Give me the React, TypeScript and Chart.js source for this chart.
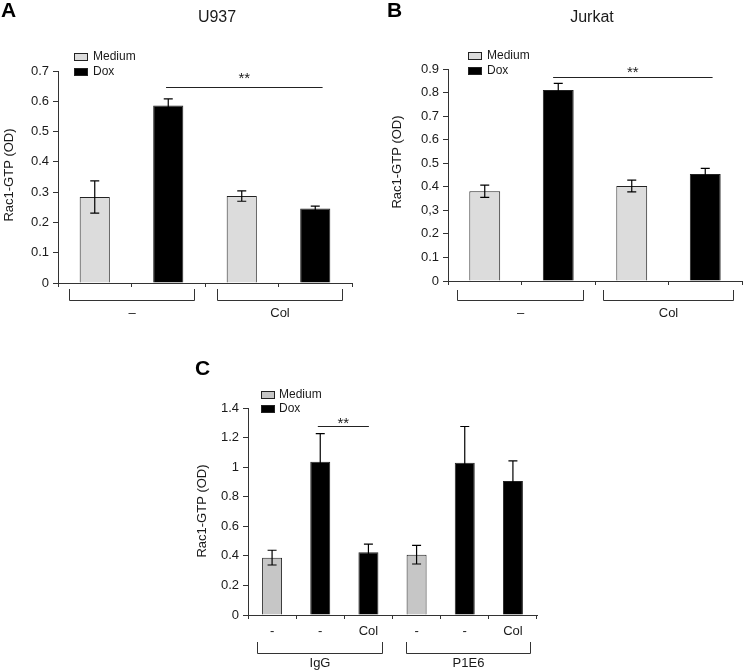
import React, { useEffect, useRef } from "react";
import { Chart, registerables } from "chart.js";

Chart.register(...registerables);

// ---------- data ----------
const legendLabels = ["Medium", "Dox"];

// Panel A – U937
const barsA = ["Medium –", "Dox –", "Medium Col", "Dox Col"];
const seriesA = [0, 1, 0, 1];
const valuesA = [0.284, 0.586, 0.287, 0.246];
const errorsA = [0.053, 0.022, 0.017, 0.008];
const yTicksA = ["0", "0.1", "0.2", "0.3", "0.4", "0.5", "0.6", "0.7"];
const groupsA = ["–", "Col"];
const sigA = { from: 0.97, to: 3.1, y: 0.647, text: "**" };

// Panel B – Jurkat
const barsB = ["Medium –", "Dox –", "Medium Col", "Dox Col"];
const seriesB = [0, 1, 0, 1];
const valuesB = [0.381, 0.811, 0.403, 0.454];
const errorsB = [0.026, 0.028, 0.025, 0.024];
const yTicksB = ["0", "0.1", "0.2", "0,3", "0.4", "0.5", "0.6", "0.7", "0.8", "0.9"];
const groupsB = ["–", "Col"];
const sigB = { from: 0.93, to: 3.1, y: 0.867, text: "**" };

// Panel C
const barsC = ["-", "-", "Col", "-", "-", "Col"];
const seriesC = [0, 1, 1, 0, 1, 1];
const valuesC = [0.388, 1.037, 0.424, 0.408, 1.03, 0.906];
const errorsC = [0.05, 0.19, 0.056, 0.063, 0.245, 0.137];
const yTicksC = ["0", "0.2", "0.4", "0.6", "0.8", "1", "1.2", "1.4"];
const groupsC = ["IgG", "P1E6"];
const sigC = { from: 0.95, to: 2.01, y: 1.28, text: "**" };

const yTitle = "Rac1-GTP (OD)";

// ---------- styling / layout ----------
const FONT = "'Liberation Sans', Arial, Helvetica, sans-serif";
const AXIS = "#333";
const TEXT = "#1a1a1a";

type Panel = {
  letter: string;
  title: string;
  box: { left: number; top: number; width: number; height: number };
  area: { left: number; top: number; right: number; bottom: number };
  labels: string[];
  series: number[];
  values: number[];
  errors: number[];
  yMax: number;
  yStep: number;
  yTicks: string[];
  mediumColor: string;
  barPct: number;
  showXLabels: boolean;
  groups: string[];
  groupSpans: [number, number][];
  sig: { from: number; to: number; y: number; text: string };
  starDy: number;
  bracket: { top: number; bottom: number; label: number };
  legend: { x: number; y1: number; y2: number; tx: number };
  letterPos: { x: number; y: number };
  titlePos: { x: number; y: number };
  yTitlePos: { x: number; y: number };
};

const panels: Panel[] = [
  {
    letter: "A",
    title: "U937",
    box: { left: 0, top: 0, width: 370, height: 330 },
    area: { left: 58, top: 71, right: 352, bottom: 283 },
    labels: barsA,
    series: seriesA,
    values: valuesA,
    errors: errorsA,
    yMax: 0.7,
    yStep: 0.1,
    yTicks: yTicksA,
    mediumColor: "#dcdcdc",
    barPct: 0.41,
    showXLabels: false,
    groups: groupsA,
    groupSpans: [
      [-0.35, 1.35],
      [1.67, 3.37],
    ],
    sig: sigA,
    starDy: 5,
    bracket: { top: 6, bottom: 17, label: 30 },
    legend: { x: 74, y1: 53, y2: 68, tx: 93 },
    letterPos: { x: 1, y: 17 },
    titlePos: { x: 217, y: 22 },
    yTitlePos: { x: 9, y: 175 },
  },
  {
    letter: "B",
    title: "Jurkat",
    box: { left: 370, top: 0, width: 373, height: 330 },
    area: { left: 78, top: 69, right: 372, bottom: 281 },
    labels: barsB,
    series: seriesB,
    values: valuesB,
    errors: errorsB,
    yMax: 0.9,
    yStep: 0.1,
    yTicks: yTicksB,
    mediumColor: "#dcdcdc",
    barPct: 0.42,
    showXLabels: false,
    groups: groupsB,
    groupSpans: [
      [-0.38, 1.34],
      [1.61, 3.38],
    ],
    sig: sigB,
    starDy: 1,
    bracket: { top: 9, bottom: 19, label: 32 },
    legend: { x: 98, y1: 52, y2: 67, tx: 117 },
    letterPos: { x: 17, y: 17 },
    titlePos: { x: 222, y: 22 },
    yTitlePos: { x: 27, y: 162 },
  },
  {
    letter: "C",
    title: "",
    box: { left: 180, top: 330, width: 420, height: 342 },
    area: { left: 68, top: 78, right: 357, bottom: 285 },
    labels: barsC,
    series: seriesC,
    values: valuesC,
    errors: errorsC,
    yMax: 1.4,
    yStep: 0.2,
    yTicks: yTicksC,
    mediumColor: "#c6c6c6",
    barPct: 0.415,
    showXLabels: true,
    groups: groupsC,
    groupSpans: [
      [-0.31, 2.28],
      [2.78, 5.35],
    ],
    sig: sigC,
    starDy: -1,
    bracket: { top: 27, bottom: 38, label: 48 },
    legend: { x: 81, y1: 61, y2: 75, tx: 99 },
    letterPos: { x: 15, y: 45 },
    titlePos: { x: 0, y: 0 },
    yTitlePos: { x: 22, y: 181 },
  },
];

function PanelChart({ cfg }: { cfg: Panel }) {
  const ref = useRef<HTMLCanvasElement>(null);

  useEffect(() => {
    const canvas = ref.current;
    if (!canvas) return;
    const { box, area } = cfg;
    const colors = cfg.series.map((s) => (s === 0 ? cfg.mediumColor : "#000"));

    const overlay = {
      id: "overlay",
      afterDatasetsDraw(chart: any) {
        const ctx: CanvasRenderingContext2D = chart.ctx;
        const xs = chart.scales.x;
        const ys = chart.scales.y;
        const meta = chart.getDatasetMeta(0);
        const bottom = chart.chartArea.bottom;
        ctx.save();

        // error bars
        ctx.strokeStyle = "#000";
        ctx.lineWidth = 1.2;
        cfg.values.forEach((v, i) => {
          const x = meta.data[i].x;
          const yt = ys.getPixelForValue(v + cfg.errors[i]);
          const yb = ys.getPixelForValue(v - cfg.errors[i]);
          ctx.beginPath();
          ctx.moveTo(x, yt);
          ctx.lineTo(x, yb);
          ctx.moveTo(x - 4.5, yt);
          ctx.lineTo(x + 4.5, yt);
          ctx.moveTo(x - 4.5, yb);
          ctx.lineTo(x + 4.5, yb);
          ctx.stroke();
        });

        // significance line
        const sy = Math.round(ys.getPixelForValue(cfg.sig.y)) + 0.5;
        const sx1 = xs.getPixelForValue(cfg.sig.from);
        const sx2 = xs.getPixelForValue(cfg.sig.to);
        ctx.strokeStyle = "#222";
        ctx.lineWidth = 1;
        ctx.beginPath();
        ctx.moveTo(sx1, sy);
        ctx.lineTo(sx2, sy);
        ctx.stroke();
        ctx.fillStyle = TEXT;
        ctx.font = `15px ${FONT}`;
        ctx.textAlign = "center";
        ctx.textBaseline = "alphabetic";
        ctx.fillText(cfg.sig.text, (sx1 + sx2) / 2, sy - cfg.starDy);

        // group brackets
        ctx.strokeStyle = "#333";
        ctx.lineWidth = 1;
        ctx.font = `13px ${FONT}`;
        ctx.textBaseline = "middle";
        cfg.groups.forEach((g, gi) => {
          const [a, b] = cfg.groupSpans[gi];
          const x1 = Math.round(xs.getPixelForValue(a)) + 0.5;
          const x2 = Math.round(xs.getPixelForValue(b)) + 0.5;
          const yT = bottom + cfg.bracket.top;
          const yB = Math.round(bottom + cfg.bracket.bottom) + 0.5;
          ctx.beginPath();
          ctx.moveTo(x1, yT);
          ctx.lineTo(x1, yB);
          ctx.lineTo(x2, yB);
          ctx.lineTo(x2, yT);
          ctx.stroke();
          ctx.fillText(g, (x1 + x2) / 2, bottom + cfg.bracket.label);
        });

        // legend
        const lg = cfg.legend;
        ctx.font = `12px ${FONT}`;
        ctx.textAlign = "left";
        ctx.textBaseline = "middle";
        [lg.y1, lg.y2].forEach((yy, i) => {
          ctx.fillStyle = i === 0 ? cfg.mediumColor : "#000";
          ctx.fillRect(lg.x, yy, 14, 8);
          ctx.strokeStyle = "#222";
          ctx.strokeRect(lg.x + 0.5, yy + 0.5, 13, 7);
          ctx.fillStyle = TEXT;
          ctx.fillText(legendLabels[i], lg.tx, yy + 4);
        });

        // panel letter
        ctx.font = `bold 21px ${FONT}`;
        ctx.textBaseline = "alphabetic";
        ctx.fillStyle = "#000";
        ctx.fillText(cfg.letter, cfg.letterPos.x, cfg.letterPos.y);

        // title
        if (cfg.title) {
          ctx.font = `16px ${FONT}`;
          ctx.textAlign = "center";
          ctx.fillStyle = TEXT;
          ctx.fillText(cfg.title, cfg.titlePos.x, cfg.titlePos.y);
        }

        // y-axis title
        ctx.save();
        ctx.translate(cfg.yTitlePos.x, cfg.yTitlePos.y);
        ctx.rotate(-Math.PI / 2);
        ctx.font = `13px ${FONT}`;
        ctx.textAlign = "center";
        ctx.textBaseline = "middle";
        ctx.fillStyle = TEXT;
        ctx.fillText(yTitle, 0, 0);
        ctx.restore();

        ctx.restore();
      },
    };

    const chart = new Chart(canvas, {
      type: "bar",
      data: {
        labels: cfg.labels,
        datasets: [
          {
            data: cfg.values,
            backgroundColor: colors,
            borderColor: "#222",
            borderWidth: 1,
            barPercentage: cfg.barPct,
            categoryPercentage: 1,
          },
        ],
      },
      options: {
        responsive: false,
        animation: false,
        devicePixelRatio: 1,
        layout: {
          padding: { left: 0, top: area.top, right: box.width - area.right, bottom: 0 },
        },
        plugins: {
          legend: { display: false },
          tooltip: { enabled: false },
        },
        scales: {
          x: {
            type: "category",
            offset: true,
            grid: {
              offset: true,
              drawOnChartArea: false,
              drawTicks: true,
              tickLength: 4,
              color: AXIS,
            },
            border: { color: AXIS, width: 1 },
            ticks: {
              display: cfg.showXLabels,
              autoSkip: false,
              maxRotation: 0,
              padding: 5,
              color: TEXT,
              font: { family: FONT, size: 13 },
            },
            afterFit: (s: any) => {
              s.height = box.height - area.bottom;
            },
          },
          y: {
            min: 0,
            max: cfg.yMax,
            grid: { drawOnChartArea: false, tickLength: 5, color: AXIS },
            border: { color: AXIS, width: 1 },
            ticks: {
              stepSize: cfg.yStep,
              padding: 4,
              color: TEXT,
              font: { family: FONT, size: 13 },
              callback: (_v: any, i: number) => cfg.yTicks[i],
            },
            afterFit: (s: any) => {
              s.width = area.left;
            },
          },
        },
      } as any,
      plugins: [overlay],
    });
    return () => chart.destroy();
  }, [cfg]);

  return (
    <canvas
      ref={ref}
      width={cfg.box.width}
      height={cfg.box.height}
      style={{
        position: "absolute",
        left: cfg.box.left,
        top: cfg.box.top,
        width: cfg.box.width,
        height: cfg.box.height,
      }}
    />
  );
}

export default function App() {
  return (
    <div
      style={{
        position: "absolute",
        left: 0,
        top: 0,
        width: 743,
        height: 672,
        background: "#fff",
        overflow: "hidden",
      }}
    >
      {panels.map((p) => (
        <PanelChart key={p.letter} cfg={p} />
      ))}
    </div>
  );
}
